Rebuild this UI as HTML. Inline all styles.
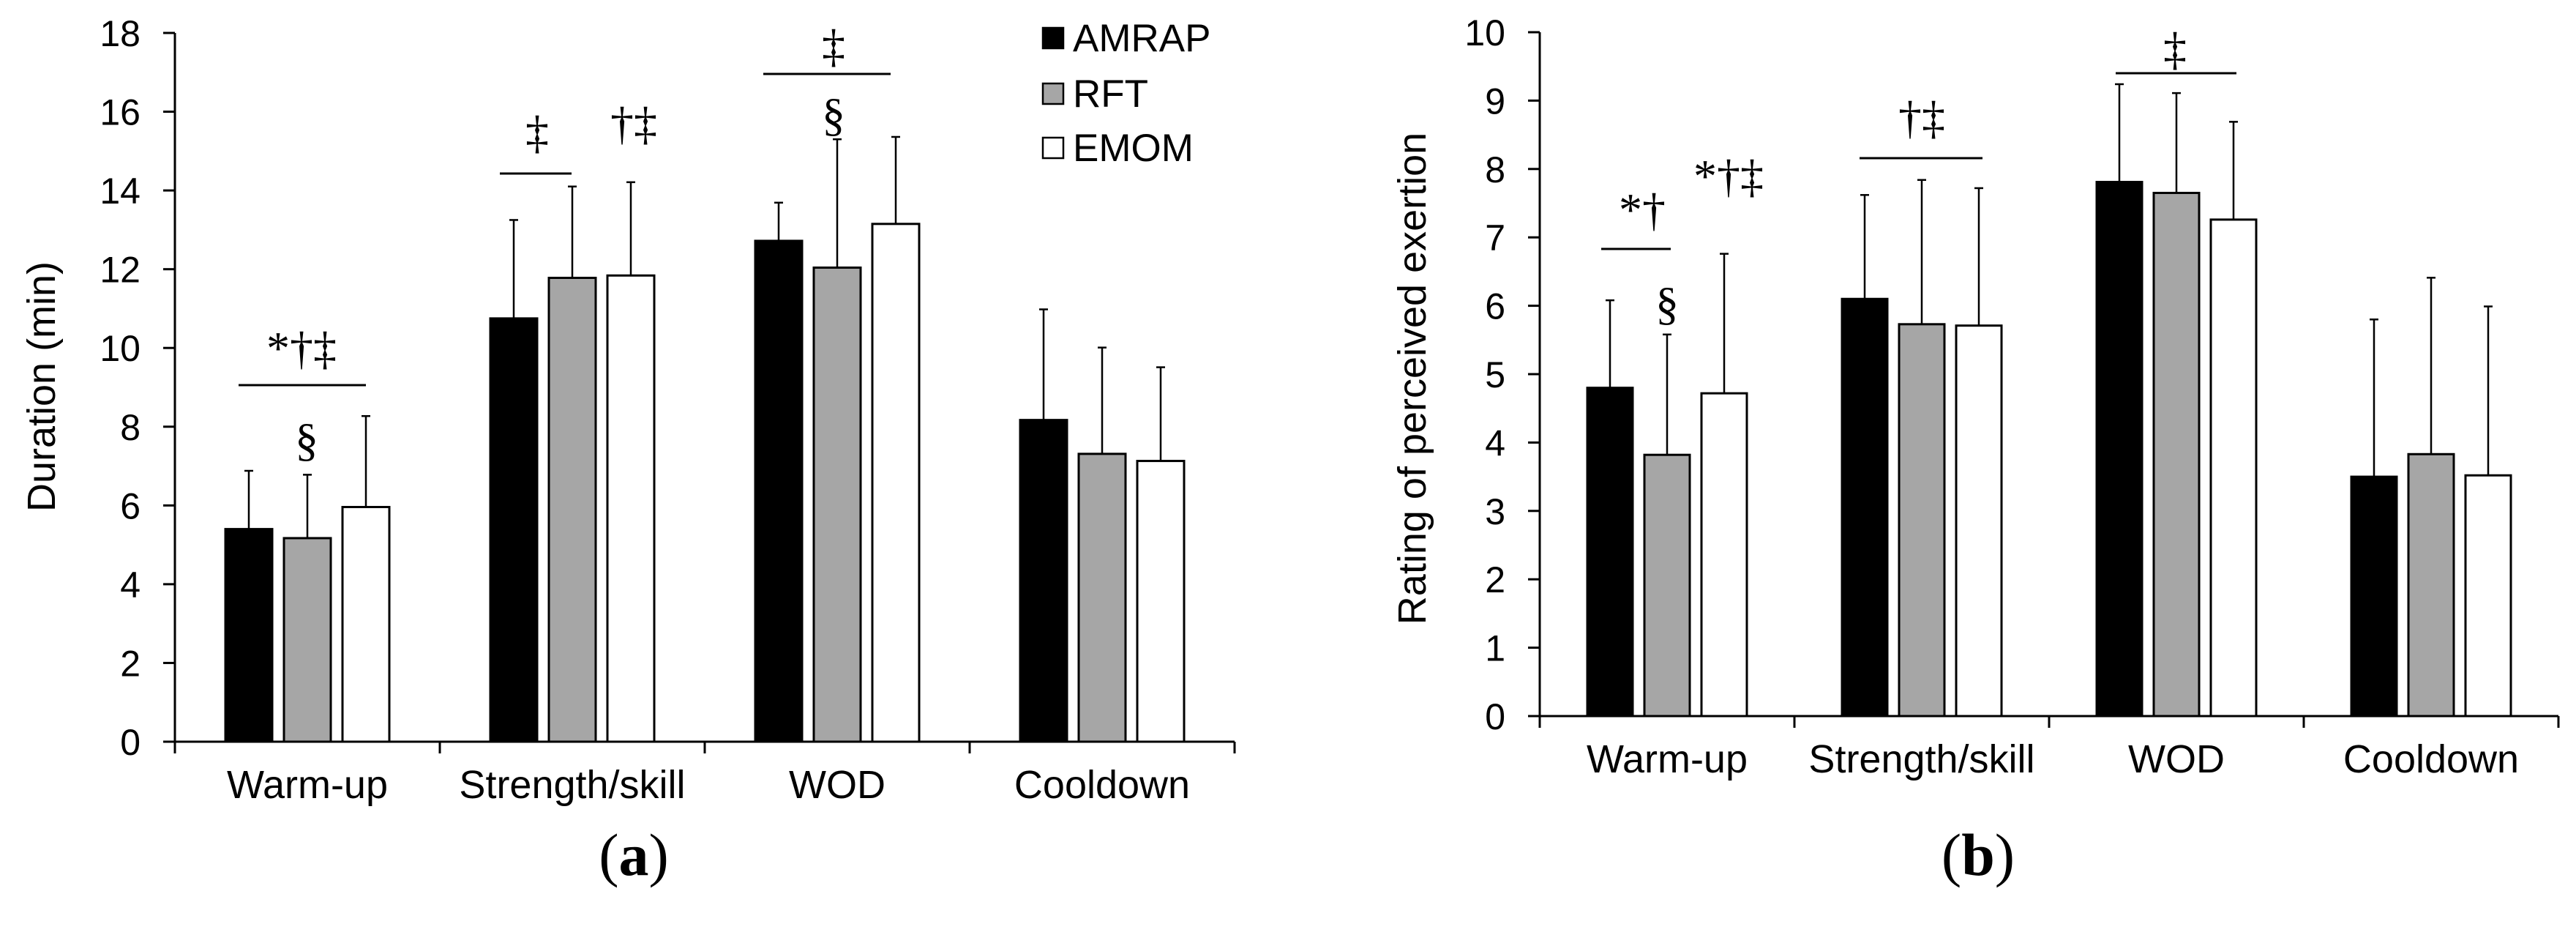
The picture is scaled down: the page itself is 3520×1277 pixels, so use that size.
<!DOCTYPE html>
<html><head><meta charset="utf-8">
<style>
html,body{margin:0;padding:0;background:#fff;}
svg{display:block;}
text{font-family:"Liberation Sans",sans-serif;fill:#000;}
.sym{font-family:"Liberation Serif",serif;}
</style></head>
<body>
<svg id="chart" width="3520" height="1277" viewBox="0 0 3520 1277" xmlns="http://www.w3.org/2000/svg">
<rect x="0" y="0" width="3520" height="1277" fill="#fff"/>
</svg>
<script>
const categories = ["Warm-up","Strength/skill","WOD","Cooldown"];
const seriesNames = ["AMRAP","RFT","EMOM"];
const seriesFill = ["#000000","#a6a6a6","#ffffff"];
// Panel (a) duration (min)
const durAMRAP = [5.40,10.75,12.72,8.17];
const durRFT   = [5.17,11.78,12.04,7.31];
const durEMOM  = [5.96,11.84,13.15,7.13];
const durAMRAPErr = [6.88,13.25,13.69,10.98];
const durRFTErr   = [6.78,14.10,15.30,10.01];
const durEMOMErr  = [8.27,14.21,15.36,9.51];
const durTicks = [0,2,4,6,8,10,12,14,16,18];
// Panel (b) RPE
const rpeAMRAP = [4.80,6.10,7.81,3.50];
const rpeRFT   = [3.82,5.73,7.65,3.83];
const rpeEMOM  = [4.72,5.71,7.26,3.52];
const rpeAMRAPErr = [6.08,7.62,9.24,5.80];
const rpeRFTErr   = [5.58,7.84,9.11,6.41];
const rpeEMOMErr  = [6.76,7.72,8.69,5.99];
const rpeTicks = [0,1,2,3,4,5,6,7,8,9,10];

const NS = "http://www.w3.org/2000/svg";
const svg = document.getElementById('chart');
function mk(tag, attrs, parent){const e=document.createElementNS(NS,tag);for(const k in attrs)e.setAttribute(k,attrs[k]);(parent||svg).appendChild(e);return e;}

function panel(cfg){
  const g = mk('g',{});
  
  
  const yS = v => cfg.y0 - (v/cfg.max)*(cfg.y0-cfg.yTop);
  const xC = i => cfg.x0 + cfg.cw*(i+0.5);
  const vals=[cfg.a,cfg.r,cfg.e], errs=[cfg.ae,cfg.re,cfg.ee];
  for(let s=0;s<3;s++){
    for(let i=0;i<categories.length;i++){
      const cx = xC(i)+(s-1)*cfg.pitch;
      const yt = yS(errs[s][i]);
      const ln = mk('line',{x1:cx,x2:cx,y1:yS(vals[s][i]),y2:yt,stroke:'#000','stroke-width':2.5},g);
      
      
      const cap = mk('line',{x1:cx-6,x2:cx+6,y1:yt,y2:yt,stroke:'#000','stroke-width':2.5},g);
      
      
      const r = mk('rect',{x:cx-cfg.bw/2,y:yS(vals[s][i]),width:cfg.bw,height:yS(0)-yS(vals[s][i]),fill:seriesFill[s],stroke:'#000','stroke-width':3},g);
      
      
    }
  }
  const ya = mk('line',{x1:cfg.x0,x2:cfg.x0,y1:cfg.yTop,y2:cfg.y0,stroke:'#000','stroke-width':3},g);
  
  
  const xa = mk('line',{x1:cfg.x0-16,x2:cfg.x0+cfg.cw*4,y1:cfg.y0,y2:cfg.y0,stroke:'#000','stroke-width':3},g);
  
  
  for(const t of cfg.ticks){
    mk('line',{x1:cfg.x0-16,x2:cfg.x0,y1:yS(t),y2:yS(t),stroke:'#000','stroke-width':3},g);
    const tl = mk('text',{x:cfg.labelX,y:yS(t)+18,'text-anchor':'end','font-size':50},g);
    tl.textContent=t;
    
    
  }
  for(let i=0;i<=4;i++){
    mk('line',{x1:cfg.x0+cfg.cw*i,x2:cfg.x0+cfg.cw*i,y1:cfg.y0,y2:cfg.y0+16,stroke:'#000','stroke-width':3},g);
  }
  for(let i=0;i<4;i++){
    const cl = mk('text',{x:xC(i),y:cfg.catY,'text-anchor':'middle','font-size':54},g);
    cl.textContent=categories[i];
    
    
  }
  const yt = mk('text',{x:0,y:0,'text-anchor':'middle','font-size':cfg.titleSize,transform:`translate(${cfg.titleX},${cfg.titleY}) rotate(-90)`},g);
  yt.textContent=cfg.title;
  
  
  for(const l of cfg.lines){
    const sl = mk('line',{x1:l[0],x2:l[1],y1:l[2],y2:l[2],stroke:'#000','stroke-width':3},g);
    
    
  }
  for(const s of cfg.syms){
    const st = mk('text',{x:s[0],y:s[1],'text-anchor':'middle','font-size':s[3]||64,class:'sym'},g);
    st.textContent=s[2];
    
    
  }
  const cap = mk('text',{x:cfg.capX,y:1195,'text-anchor':'middle','font-size':82,class:'sym'},g);
  cap.innerHTML = '(<tspan font-weight="bold">'+cfg.cap+'</tspan>)';
  
  
}

panel({name:'panel-a-duration',x0:239,cw:362,y0:1013,yTop:45,max:18,ticks:durTicks,
  a:durAMRAP,r:durRFT,e:durEMOM,ae:durAMRAPErr,re:durRFTErr,ee:durEMOMErr,
  bw:64,pitch:80,labelX:192,catY:1090,title:'Duration (min)',titleSize:54,titleX:75,titleY:528,
  lines:[[326,500,526],[683,781,237],[1043,1217,101]],
  syms:[[412,497,'*†‡'],[419,622,'§'],[734,202,'‡'],[866,190,'†‡'],[1139,84,'‡'],[1139,178,'§']],
  capX:866,cap:'a'});

panel({name:'panel-b-rpe',x0:2104,cw:348,y0:978,yTop:44,max:10,ticks:rpeTicks,
  a:rpeAMRAP,r:rpeRFT,e:rpeEMOM,ae:rpeAMRAPErr,re:rpeRFTErr,ee:rpeEMOMErr,
  bw:62,pitch:78,labelX:2057,catY:1055,title:'Rating of perceived exertion',titleSize:54,titleX:1948,titleY:517,
  lines:[[2188,2283,340],[2541,2709,216],[2891,3056,100]],
  syms:[[2244,308,'*†'],[2278,436,'§'],[2362,262,'*†‡'],[2626,182,'†‡'],[2972,88,'‡']],
  capX:2703,cap:'b'});

const lg = mk('g',{});


const legY=[38,114,188];
for(let s=0;s<3;s++){
  const sw = mk('rect',{x:1425,y:legY[s],width:28,height:28,fill:seriesFill[s],stroke:'#000','stroke-width':2.5},lg);
  
  
  const lt = mk('text',{x:1466,y:legY[s]+32,'font-size':53},lg);
  lt.textContent=seriesNames[s];
  
  
}
</script>
</body></html>
